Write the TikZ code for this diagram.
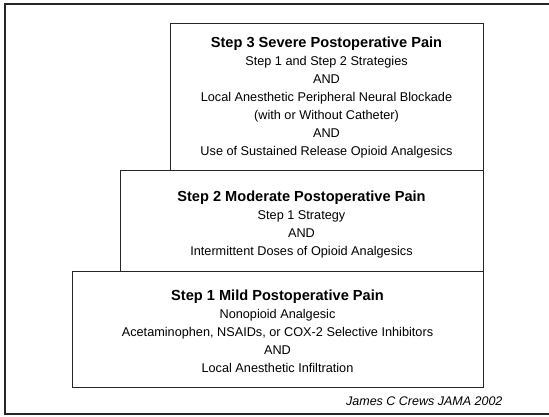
\documentclass[tikz,border=0pt]{standalone}
\usepackage{fontspec}
\setmainfont{Liberation Sans}
\usetikzlibrary{positioning}
\tikzset{
  painbox/.style={draw=black!85, line width=1pt, rectangle, inner sep=0pt},
  painlines/.style={inner sep=0pt, align=center, font=\fontsize{12.7}{18}\selectfont},
  creditnote/.style={anchor=east, font=\fontsize{12.5}{15}\selectfont\itshape},
}
\newcommand{\painhead}[1]{{\fontsize{14.6}{18}\selectfont\bfseries #1}}

\begin{document}
\begin{tikzpicture}[x=1pt, y=1pt]
			%%%%% START %%%%%
			\useasboundingbox (0, 0) rectangle (549, -417);
			
			\draw[line width=1.2pt, color=black!85] (5, -4) rectangle (551, -414);
			
			% step 3
			\node[painbox, minimum width=313, minimum height=147] (severe) at (326.5, -97.5) {};
			\node[painlines] (severe text) at ([yshift=-0.5]severe.center)
			{\painhead{Step 3 Severe Postoperative Pain}\\
			 Step 1 and Step 2 Strategies\\
			 AND\\
			 Local Anesthetic Peripheral Neural Blockade\\
			 (with or Without Catheter)\\
			 AND\\
			 Use of Sustained Release Opioid Analgesics};
			
			% step 2
			\node[painbox, minimum width=363, minimum height=100] (moderate) at (301.5, -221) {};
			\node[painlines] (moderate text) at ([yshift=-4]moderate.center)
			{\painhead{Step 2 Moderate Postoperative Pain}\\
			 Step 1 Strategy\\
			 AND\\
			 Intermittent Doses of Opioid Analgesics};
			
			% step 1
			\node[painbox, minimum width=411, minimum height=116] (mild) at (277.5, -329) {};
			\node[painlines] (mild text) at ([yshift=-2]mild.center)
			{\painhead{Step 1 Mild Postoperative Pain}\\
			 Nonopioid Analgesic\\
			 Acetaminophen, NSAIDs, or COX-2 Selective Inhibitors\\
			 AND\\
			 Local Anesthetic Infiltration};
			
			\node[creditnote] (credit) at (506, -401) {James C Crews JAMA 2002};
			%%%%% END %%%%%
\end{tikzpicture}
\end{document}
